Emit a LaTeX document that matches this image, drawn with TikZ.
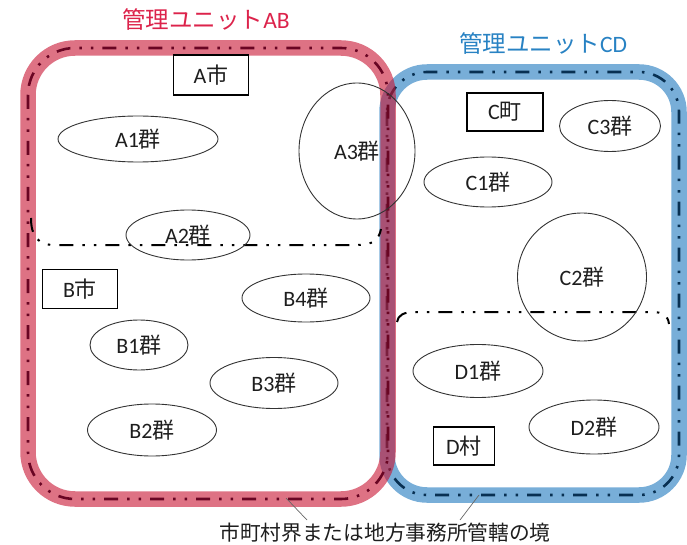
\documentclass[tikz,border=0pt]{standalone}
\usepackage{fontspec}
\setmainfont{Carlito}
\newfontfamily\cjk{Noto Sans CJK JP}
\newcommand\J[1]{{\cjk #1}}
\usetikzlibrary{shapes.geometric}
\definecolor{redbase}{RGB}{200,20,50}
\definecolor{bluebase}{RGB}{30,120,190}
\definecolor{reddash}{RGB}{105,5,35}
\definecolor{bluedash}{RGB}{8,48,82}
\definecolor{redtitle}{RGB}{220,35,75}
\definecolor{bluetitle}{RGB}{40,130,195}
\definecolor{txt}{RGB}{30,30,30}
\tikzset{
  dddash/.style={dash pattern=on 14pt off 9pt on 2.5pt off 9pt on 2.5pt off 9pt},
  bandline/.style={line width=15.5pt, draw opacity=0.6},
  grp/.style={draw=black!80, line width=0.9pt, ellipse, inner sep=0pt, text=txt,
              font=\fontsize{22pt}{26pt}\selectfont},
  munibox/.style={draw=black, line width=1.4pt, inner sep=0pt, text=txt,
              font=\fontsize{22pt}{26pt}\selectfont},
  leader/.style={draw=black!60, line width=0.7pt}
}
\begin{document}
\begin{tikzpicture}[x=1pt,y=-1pt]
\useasboundingbox (0,0) rectangle (687,545);
% blue unit band
\draw[bandline, bluebase, rounded corners=40pt] (387,72) rectangle (679,495);
\draw[bluedash, line width=2.6pt, dddash, rounded corners=40pt] (387,72) rectangle (679,495);
% red unit band
\draw[bandline, redbase, rounded corners=47pt] (28,48) rectangle (388,499);
\draw[reddash, line width=2.6pt, dddash, rounded corners=47pt] (28,48) rectangle (388,499);
% municipal boundaries
\draw[black, line width=2pt, dddash] (31,218) .. controls (31,236) and (38,245) .. (54,245) -- (358,245) .. controls (372,245) and (379,240) .. (381,229);
\draw[black, line width=2pt, dddash] (397,322) .. controls (398,315) and (404,312) .. (415,312) -- (652,312) .. controls (662,312) and (668,315) .. (669,324);
% titles
\node[text=redtitle, font=\fontsize{23.5pt}{27pt}\selectfont] (tab) at (206,20) {\J{管理ユニット}AB};
\node[text=bluetitle, font=\fontsize{23.5pt}{27pt}\selectfont] (tcd) at (543,44) {\J{管理ユニット}CD};
% municipality boxes
\node[munibox, minimum width=75pt, minimum height=40pt] (am) at (211,75) {A\J{市}};
\node[munibox, minimum width=75pt, minimum height=39pt] (bm) at (80,289) {B\J{市}};
\node[munibox, minimum width=76pt, minimum height=38pt] (cm) at (505,112) {C\J{町}};
\node[munibox, minimum width=61pt, minimum height=38pt] (dm) at (464,446) {D\J{村}};
% groups
\node[grp, minimum width=160pt, minimum height=46pt] (a1) at (138,139) {A1\J{群}};
\node[grp, minimum width=124pt, minimum height=50pt] (a2) at (188,235) {A2\J{群}};
\node[grp, minimum width=116pt, minimum height=136pt] (a3) at (357,151) {A3\J{群}};
\node[grp, minimum width=128pt, minimum height=48pt] (b4) at (306,298) {B4\J{群}};
\node[grp, minimum width=98pt, minimum height=50pt] (b1) at (139,345) {B1\J{群}};
\node[grp, minimum width=128pt, minimum height=51pt] (b3) at (274,383) {B3\J{群}};
\node[grp, minimum width=129pt, minimum height=52pt] (b2) at (152,430) {B2\J{群}};
\node[grp, minimum width=101pt, minimum height=51pt] (c3) at (610,126) {C3\J{群}};
\node[grp, minimum width=128pt, minimum height=50pt] (c1) at (488,182) {C1\J{群}};
\node[grp, minimum width=129pt, minimum height=128pt] (c2) at (582,277) {C2\J{群}};
\node[grp, minimum width=130pt, minimum height=53pt] (d1) at (478,371) {D1\J{群}};
\node[grp, minimum width=130pt, minimum height=54pt] (d2) at (594,427) {D2\J{群}};
% bottom caption and leaders
\node[text=txt, font=\fontsize{20.7pt}{24pt}\selectfont] (cap) at (385,533) {\J{市町村界または地方事務所管轄の境}};
\coordinate (la) at (286,498);
\coordinate (lb) at (307,520);
\coordinate (ra) at (479,495);
\coordinate (rb) at (460,520);
\draw[leader] (la) -- (lb);
\draw[leader] (ra) -- (rb);
\end{tikzpicture}
\end{document}
